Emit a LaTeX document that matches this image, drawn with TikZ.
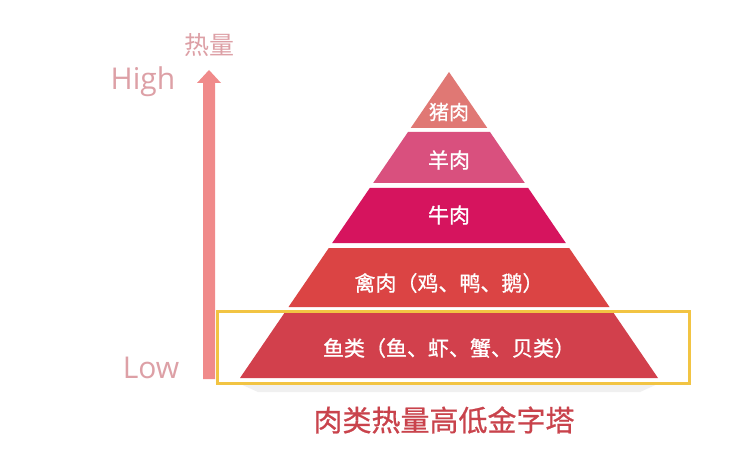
\documentclass[tikz,border=0pt]{standalone}
\usepackage{fontspec}
\setmainfont{Noto Sans CJK SC}
\newfontfamily\cjkm[FakeBold=0.8]{Noto Sans CJK SC}
\newfontfamily\latinf{Open Sans}
\begin{document}
\begin{tikzpicture}[x=1pt,y=-1pt,
  bandtext/.style={text=white,font=\cjkm\fontsize{21}{21}\selectfont,inner sep=0pt},
  axislabel/.style={text=labelc,inner sep=0pt},
]
\definecolor{c1}{HTML}{E07874}
\definecolor{c2}{HTML}{D9507E}
\definecolor{c3}{HTML}{D6145E}
\definecolor{c4}{HTML}{DB4444}
\definecolor{c5}{HTML}{D2404C}
\definecolor{arrowc}{HTML}{F08A8A}
\definecolor{titlec}{HTML}{C9434C}
\definecolor{labelc}{HTML}{DDA0A6}
\definecolor{boxc}{HTML}{F2C443}
\useasboundingbox[fill=white] (0,0) rectangle (750,468);
% soft shadow
\fill[black!6] (236,382) -- (662,382) -- (640,392) -- (258,392) -- cycle;
% bands
\fill[c1] (449,72) -- (487.3,128) -- (410.7,128) -- cycle;
\fill[c2] (408,132) -- (490,132) -- (524.8,183) -- (373.2,183) -- cycle;
\fill[c3] (369.8,188) -- (528.2,188) -- (565.8,243) -- (332.2,243) -- cycle;
\fill[c4] (328.8,248) -- (569.2,248) -- (609.5,307) -- (288.5,307) -- cycle;
\fill[c5] (285.1,312) -- (612.9,312) -- (658,378) -- (240,378) -- cycle;
% texts
\node[bandtext,font=\cjkm\fontsize{20}{20}\selectfont] (t1) at (449,112) {猪肉};
\node[bandtext] (t2) at (449,160) {羊肉};
\node[bandtext] (t3) at (449,215) {牛肉};
\node[bandtext] (t4) at (449,283) {禽肉（鸡、鸭、鹅）};
\node[bandtext] (t5) at (449,348) {鱼类（鱼、虾、蟹、贝类）};
% highlight box
\node[draw=boxc,line width=3pt,minimum width=472pt,minimum height=72pt,inner sep=0pt] (hl) at (453.5,347) {};
% arrow
\fill[arrowc] (203,379) -- (203,83) -- (197,83) -- (209,70) -- (221,83) -- (215,83) -- (215,379) -- cycle;
% axis labels
\node[axislabel,font=\fontsize{25}{25}\selectfont] (heat) at (209,45) {热量};
\node[axislabel,font=\latinf\fontsize{30}{30}\selectfont] (high) at (143,82) {High};
\node[axislabel,font=\latinf\fontsize{30}{30}\selectfont] (low) at (151,368) {Low};
% title
\node[text=titlec,font=\cjkm\fontsize{29}{29}\selectfont,inner sep=0pt] (title) at (444,420) {肉类热量高低金字塔};
\end{tikzpicture}
\end{document}
